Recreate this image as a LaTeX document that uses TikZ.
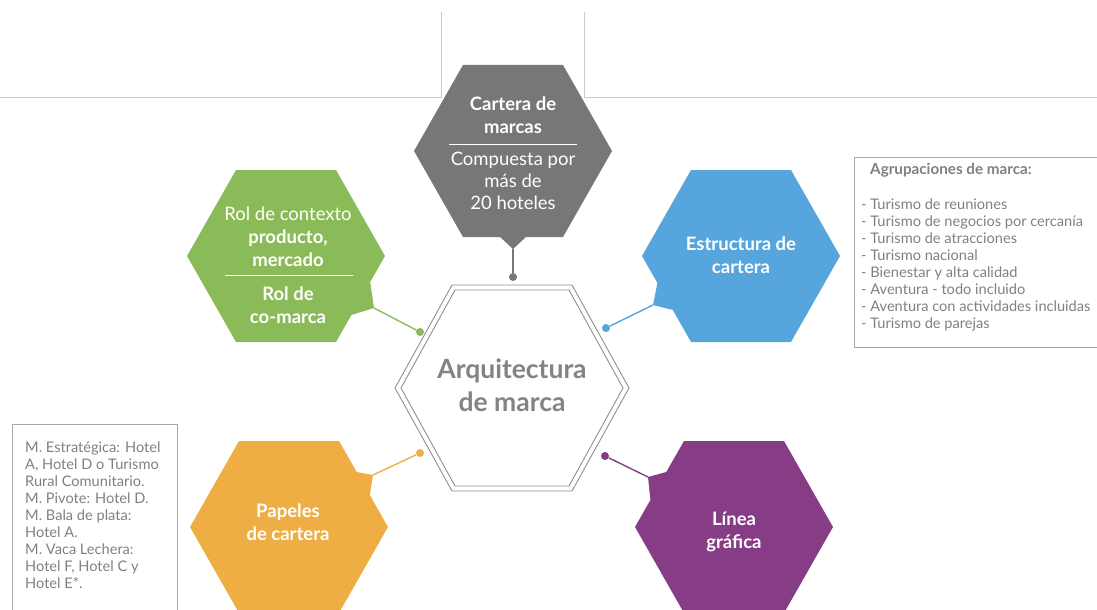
\documentclass[tikz,border=0pt]{standalone}
\usepackage{fontspec}
\setmainfont{Lato}
\definecolor{hgray}{HTML}{777777}
\definecolor{hgreen}{HTML}{8BBA58}
\definecolor{hblue}{HTML}{56A5DC}
\definecolor{horange}{HTML}{EFAE43}
\definecolor{hpurple}{HTML}{873D85}
\definecolor{txtgray}{HTML}{808080}
\definecolor{archgray}{HTML}{838383}
\definecolor{framegray}{HTML}{A8A8A8}
\definecolor{topgray}{HTML}{CCCCCC}
\begin{document}
\begin{tikzpicture}[x=1pt,y=-1pt,
  topline/.style={draw=topgray,line width=0.7pt},
  frame/.style={draw=framegray,line width=0.9pt},
  conn/.style={line width=1.4pt},
  dotc/.style={circle,inner sep=0pt,minimum size=8pt},
  hexbold/.style={text=white,align=center,inner sep=0pt,font=\fontsize{18.5}{22.5}\selectfont\bfseries},
  hexlight/.style={text=white,align=center,inner sep=0pt,font=\fontsize{18.5}{22}\selectfont},
  sepline/.style={draw=white,line width=0.8pt},
  boxtext/.style={text=txtgray,align=left,inner sep=0pt,font=\fontsize{14.6}{17}\selectfont},
  archline/.style={draw=archgray!90,line width=0.9pt}]
\useasboundingbox (0,0) rectangle (1097,610);

% top lines
\draw[topline] (441,12) -- (441,97) -- (0,97);
\draw[topline] (584,12) -- (584,97) -- (1097,97);

% centre hexagon
\draw[archline] (452,285) -- (572,285) -- (629,388) -- (572,491) -- (452,491) -- (395,388) -- cycle;
\draw[archline] (455,290) -- (569,290) -- (623,388) -- (569,486) -- (455,486) -- (401,388) -- cycle;
\node[text=archgray,align=center,inner sep=0pt,font=\fontsize{26.5}{33}\selectfont\bfseries] (arch) at (512,385) {Arquitectura\\de marca};

% grey hexagon: Cartera de marcas
\coordinate (ctip) at (513,249);
\fill[hgray] (463,65) -- (563,65) -- (612,151) -- (563,237) -- (526,237) -- (ctip) -- (500,237) -- (463,237) -- (414,151) -- cycle;
\node[hexbold] (cart) at (513,115) {Cartera de\\marcas};
\draw[sepline] (449,144) -- (577,144);
\node[hexlight] (comp) at (513,181) {Compuesta por\\más de\\20 hoteles};
\node[dotc,fill=hgray] (cdot) at (513,277) {};
\draw[conn,hgray] (ctip) -- (cdot);

% green hexagon
\coordinate (gtip) at (374,308);
\fill[hgreen] (236,170) -- (336,170) -- (385,256) -- (370.2,282) -- (gtip) -- (351.4,315) -- (336,342) -- (236,342) -- (187,256) -- cycle;
\node[hexlight] (gctx) at (288,214) {Rol de contexto};
\node[hexbold] (gprod) at (288,248) {producto,\\mercado};
\draw[sepline] (225,275) -- (353,275);
\node[hexbold] (gco) at (288,305) {Rol de\\co-marca};
\node[dotc,fill=hgreen] (gdot) at (420,332) {};
\draw[conn,hgreen] (gtip) -- (gdot);

% blue hexagon
\coordinate (btip) at (653,305);
\fill[hblue] (691,170) -- (791,170) -- (840,256) -- (791,342) -- (691,342) -- (672.8,310) -- (btip) -- (657.4,283) -- (642,256) -- cycle;
\node[hexbold] (estr) at (741,255) {Estructura de\\cartera};
\node[dotc,fill=hblue] (bdot) at (606,328) {};
\draw[conn,hblue] (btip) -- (bdot);

% orange hexagon
\coordinate (otip) at (373,475);
\fill[horange] (239,441) -- (339,441) -- (356.7,472) -- (otip) -- (369.8,495) -- (388,527) -- (339,613) -- (239,613) -- (190,527) -- cycle;
\node[hexbold] (pap) at (288,522) {Papeles\\de cartera};
\node[dotc,fill=horange] (odot) at (420,453) {};
\draw[conn,horange] (otip) -- (odot);

% purple hexagon
\coordinate (ptip) at (648,477);
\fill[hpurple] (684,441) -- (784,441) -- (833,527) -- (784,613) -- (684,613) -- (635,527) -- (650.4,500) -- (ptip) -- (666.3,472) -- cycle;
\node[hexbold] (lin) at (734,532) {Línea\\gráfica};
\node[dotc,fill=hpurple] (pdot) at (605,456) {};
\draw[conn,hpurple] (ptip) -- (pdot);

% right box
\draw[frame] (1098,157) -- (854,157) -- (854,347) -- (1098,347);
\node[text=txtgray,inner sep=0pt,anchor=west,font=\fontsize{15.2}{17}\selectfont\bfseries] (agtitle) at (870,170) {Agrupaciones de marca:};
\node[boxtext,anchor=north west] (aglist) at (861,199) {- Turismo de reuniones\\- Turismo de negocios por cercanía\\- Turismo de atracciones\\- Turismo nacional\\- Bienestar y alta calidad\\- Aventura - todo incluido\\- Aventura con actividades incluidas\\- Turismo de parejas};

% left box
\draw[frame] (12,612) -- (12,424) -- (177,424) -- (177,612);
\node[boxtext,anchor=north west] (roles) at (25,442) {M. Estratégica: Hotel\\A, Hotel D o Turismo\\Rural Comunitario.\\M. Pivote: Hotel D.\\M. Bala de plata:\\Hotel A.\\M. Vaca Lechera:\\Hotel F, Hotel C y\\Hotel E*.};
\end{tikzpicture}
\end{document}
